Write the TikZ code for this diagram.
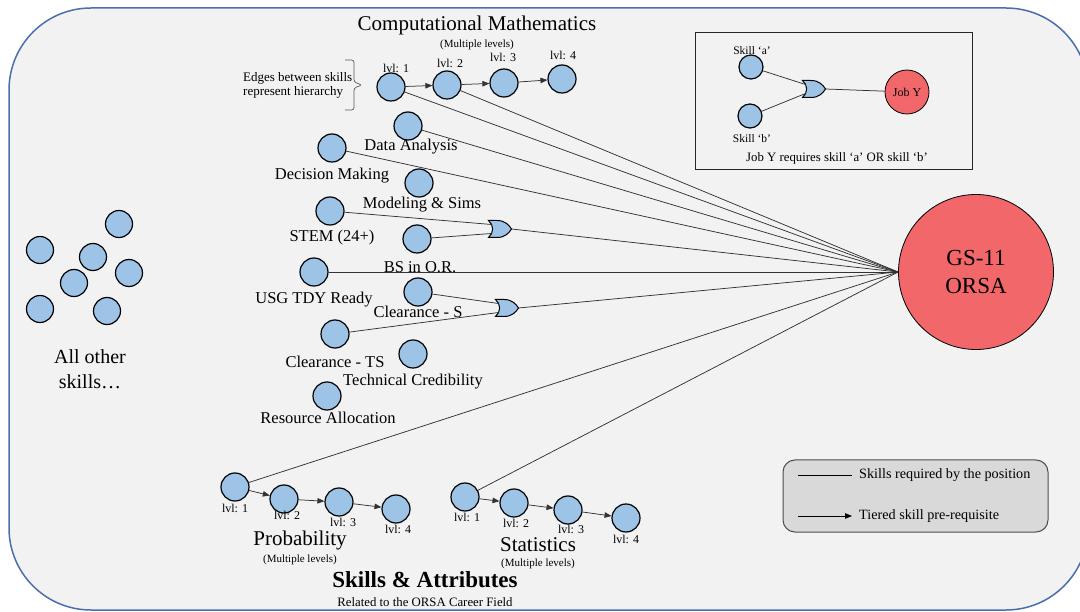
\documentclass[tikz,border=0pt]{standalone}
\usepackage{fontspec}
\setmainfont{Liberation Serif}
\usetikzlibrary{arrows.meta}

\definecolor{panel}{HTML}{F2F2F2}
\definecolor{panelborder}{HTML}{4A6FAF}
\definecolor{skillblue}{HTML}{9DC3E6}
\definecolor{jobred}{HTML}{F2686A}
\definecolor{legendgray}{HTML}{D9D9D9}

\newcommand\fsTitle{\fontsize{21}{24}\selectfont}
\newcommand\fsSkill{\fontsize{16.5}{19}\selectfont}
\newcommand\fsLvl{\fontsize{12}{14}\selectfont}
\newcommand\fsSmall{\fontsize{11}{13}\selectfont}
\newcommand\fsNote{\fontsize{12.8}{15}\selectfont}

\tikzset{
  skill/.style={circle, draw=black, line width=1.2pt, fill=skillblue,
                minimum size=28pt, inner sep=0pt},
  smallskill/.style={skill, minimum size=24pt},
  job/.style={circle, draw=black, line width=0.8pt, fill=jobred, inner sep=0pt},
  req/.style={draw=black!80, line width=0.75pt},
  tier/.style={draw=black!80, line width=0.75pt, -{Triangle[length=7pt,width=5.5pt]}},
  lbl/.style={font=\fsSkill, inner sep=0pt},
  lvl/.style={font=\fsLvl, inner sep=0pt},
  sub/.style={font=\fsSmall, inner sep=0pt},
  heading/.style={font=\fsTitle, inner sep=0pt},
  orgate/.pic={
    \path[draw=black, line width=1pt, fill=skillblue]
      (-11.5,-8.5) -- (-3,-8.5)
      .. controls (5,-8.5) and (9,-4) .. (11.5,0)
      .. controls (9,4) and (5,8.5) .. (-3,8.5)
      -- (-11.5,8.5)
      .. controls (-6,4) and (-6,-4) .. (-11.5,-8.5) -- cycle;
    \coordinate (-in1) at (-8.5,-4.5);
    \coordinate (-in2) at (-8.5,4.5);
    \coordinate (-out) at (11.5,0);
  }
}

\begin{document}
\begin{tikzpicture}[x=1pt,y=-1pt]
\useasboundingbox (0,0) rectangle (1080,612);

% outer panel
\path[fill=panel, draw=panelborder, line width=1.5pt, rounded corners=82pt]
  (9,8) rectangle (1088,610);

% ---------- computational mathematics chain ----------
\node[heading] (cmtitle) at (477,25) {Computational Mathematics};
\node[sub] (cmsub) at (477,45) {(Multiple levels)};
\node[skill] (c1) at (391,87) {};
\node[skill] (c2) at (447,85) {};
\node[skill] (c3) at (504,83) {};
\node[skill] (c4) at (562,79) {};
\node[lvl] (c1l) at (396,68) {lvl: 1};
\node[lvl] (c2l) at (450,63) {lvl: 2};
\node[lvl] (c3l) at (503,57) {lvl: 3};
\node[lvl] (c4l) at (563,55) {lvl: 4};
\draw[tier] (c1) -- (c2);
\draw[tier] (c2) -- (c3);
\draw[tier] (c3) -- (c4);

\node[font=\fontsize{13}{15}\selectfont, align=left, inner sep=0pt, anchor=west] (hier) at (243,85)
  {Edges between skills\\[-1pt]represent hierarchy};
% square-ish brace pointing at the first level
\draw[black!65, line width=0.7pt, rounded corners=2.5pt]
  (345,60) -- (354,60) -- (354,82) -- (362,85) -- (354,88) -- (354,110) -- (345,110);

% ---------- single skills ----------
\node[skill] (da) at (408,126) {};
\node[skill] (dm) at (332,148) {};
\node[skill] (ms) at (419,183) {};
\node[skill] (stem) at (330,211) {};
\node[skill] (bs) at (417,239) {};
\node[skill] (usg) at (314,272) {};
\node[skill] (cls) at (418,292) {};
\node[skill] (clts) at (335,334) {};
\node[skill] (tc) at (413,354) {};
\node[skill] (ra) at (327,396) {};

\node[lbl] (dal) at (411,147) {Data Analysis};
\node[lbl] (dml) at (332,176) {Decision Making};
\node[lbl] (msl) at (422,205) {Modeling \& Sims};
\node[lbl] (steml) at (332,238) {STEM (24+)};
\node[lbl] (bsl) at (420,267) {BS in O.R.};
\node[lbl] (usgl) at (314,300) {USG TDY Ready};
\node[lbl] (clsl) at (418,312) {Clearance - S};
\node[lbl] (cltsl) at (335,362) {Clearance - TS};
\node[lbl] (tcl) at (413,382) {Technical Credibility};
\node[lbl] (ral) at (328,418) {Resource Allocation};

\pic (g1) at (500,229) {orgate};
\pic (g2) at (507,308) {orgate};

% ---------- target position ----------
\node[job, minimum size=155pt, font=\fontsize{23}{28}\selectfont, align=center]
  (orsa) at (976,272) {GS-11\\ORSA};

% ---------- probability / statistics chains ----------
\node[skill] (p1) at (235,487) {};
\node[skill] (p2) at (284,499) {};
\node[skill] (p3) at (339,502) {};
\node[skill] (p4) at (396,509) {};
\node[lvl] (p1l) at (235,508) {lvl: 1};
\node[lvl] (p2l) at (287,515) {lvl: 2};
\node[lvl] (p3l) at (343,522) {lvl: 3};
\node[lvl] (p4l) at (398,529) {lvl: 4};
\draw[tier] (p1) -- (p2);
\draw[tier] (p2) -- (p3);
\draw[tier] (p3) -- (p4);
\node[heading] (ptitle) at (300,540) {Probability};
\node[sub] (psub) at (300,560) {(Multiple levels)};

\node[skill] (s1) at (465,497) {};
\node[skill] (s2) at (514,503) {};
\node[skill] (s3) at (568,510) {};
\node[skill] (s4) at (626,518) {};
\node[lvl] (s1l) at (467,517) {lvl: 1};
\node[lvl] (s2l) at (516,523) {lvl: 2};
\node[lvl] (s3l) at (571,529) {lvl: 3};
\node[lvl] (s4l) at (626,539) {lvl: 4};
\draw[tier] (s1) -- (s2);
\draw[tier] (s2) -- (s3);
\draw[tier] (s3) -- (s4);
\node[heading] (stitle) at (538,545) {Statistics};
\node[sub] (ssub) at (538,564) {(Multiple levels)};

\node[font=\fontsize{23}{26}\selectfont\bfseries, inner sep=0pt] (sa) at (425,580)
  {Skills \& Attributes};
\node[font=\fsNote, inner sep=0pt] (sasub) at (425,602)
  {Related to the ORSA Career Field};

% ---------- required skills ----------
\draw[req] (c1) -- (orsa.west);
\draw[req] (c2) -- (orsa.west);
\draw[req] (da) -- (orsa.west);
\draw[req] (dm) -- (orsa.west);
\draw[req] (stem) -- (g1-in1);
\draw[req] (bs) -- (g1-in2);
\draw[req] (g1-out) -- (orsa.west);
\draw[req] (usg) -- (orsa.west);
\draw[req] (cls) -- (g2-in1);
\draw[req] (clts) -- (g2-in2);
\draw[req] (g2-out) -- (orsa.west);
\draw[req] (p1) -- (orsa.west);
\draw[req] (s1) -- (orsa.west);

% ---------- all other skills ----------
\node[skill, minimum size=27pt] (o1) at (119,224) {};
\node[skill, minimum size=27pt] (o2) at (40,250) {};
\node[skill, minimum size=27pt] (o3) at (93,257) {};
\node[skill, minimum size=27pt] (o4) at (129,273) {};
\node[skill, minimum size=27pt] (o5) at (74,283) {};
\node[skill, minimum size=27pt] (o6) at (40,309) {};
\node[skill, minimum size=27pt] (o7) at (107,311) {};
\node[font=\fontsize{20}{25}\selectfont, align=center, inner sep=0pt] (others)
  at (90,369) {All other\\skills\dots};

% ---------- OR example ----------
\draw[black!85, line width=1pt] (695,33) rectangle (972,170);
\node[smallskill] (ka) at (751,67) {};
\node[smallskill] (kb) at (750,116) {};
\node[font=\fontsize{11.5}{13}\selectfont, inner sep=0pt] (kal) at (752,51) {Skill ‘a’};
\node[font=\fontsize{11.5}{13}\selectfont, inner sep=0pt] (kbl) at (752,139) {Skill ‘b’};
\pic (g3) at (814,89) {orgate};
\node[job, minimum size=44pt, font=\fsLvl] (jy) at (907,92) {Job Y};
\draw[req] (ka) -- (g3-in1);
\draw[req] (kb) -- (g3-in2);
\draw[req] (g3-out) -- (jy);
\node[font=\fsNote, inner sep=0pt] (orcap) at (837,158)
  {Job Y requires skill ‘a’ OR skill ‘b’};

% ---------- legend ----------
\draw[fill=legendgray, draw=black!70, line width=1pt, rounded corners=12pt]
  (783,460) rectangle (1048,532);
\coordinate (la1) at (798,475);
\coordinate (la2) at (852,475);
\coordinate (lb1) at (798,516);
\coordinate (lb2) at (852,516);
\draw[req, black] (la1) -- (la2);
\draw[tier, black] (lb1) -- (lb2);
\node[font=\fontsize{14.2}{16}\selectfont, anchor=west, inner sep=0pt] (lta) at (859,475)
  {Skills required by the position};
\node[font=\fontsize{14.2}{16}\selectfont, anchor=west, inner sep=0pt] (ltb) at (859,516)
  {Tiered skill pre-requisite};

\end{tikzpicture}
\end{document}
